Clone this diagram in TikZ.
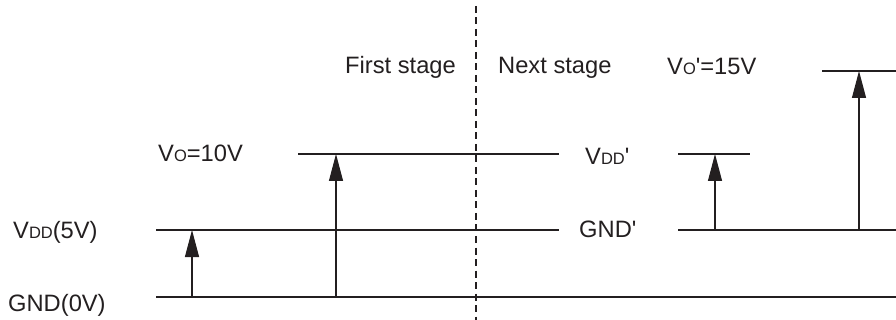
\documentclass[tikz,border=0pt]{standalone}
\usepackage{fontspec}
\setmainfont{Liberation Sans}
\usetikzlibrary{arrows.meta}
\definecolor{ink}{HTML}{231F20}
\newcommand{\smallsub}[1]{{\fontsize{16.5}{16.5}\selectfont #1}}
\newcommand{\prm}{\textquotesingle}
\begin{document}
\begin{tikzpicture}[x=1pt,y=-1pt,
  level/.style={draw=ink,line width=1.2pt},
  rise/.style={draw=ink,line width=1.2pt,-{Triangle[length=27pt,width=14pt]}},
  lbl/.style={anchor=base west,inner sep=0pt,text=ink,font=\fontsize{23.7}{24}\selectfont},
  divider/.style={draw=ink,line width=1.1pt,dash pattern=on 7pt off 4.5pt}]
\useasboundingbox (0,0) rectangle (896,320);
% coordinates for levels
\coordinate (gndL) at (156,297);
\coordinate (gndR) at (896,297);
\coordinate (vddL) at (156,230);
\coordinate (vddR) at (559,230);
\coordinate (voL) at (298,154);
\coordinate (voR) at (559,154);
\coordinate (vddpL) at (678,154);
\coordinate (vddpR) at (750,154);
\coordinate (gndpL) at (678,230);
\coordinate (gndpR) at (896,230);
\coordinate (vopL) at (822,71);
\coordinate (vopR) at (896,71);
\coordinate (divT) at (476,6);
\coordinate (divB) at (476,320);
% arrow ends
\coordinate (a1b) at (192,297);
\coordinate (a1t) at (192,230);
\coordinate (a2b) at (336,297);
\coordinate (a2t) at (336,154);
\coordinate (a3b) at (715,230);
\coordinate (a3t) at (715,154);
\coordinate (a4b) at (859,230);
\coordinate (a4t) at (859,71);
% lines
\draw[divider] (divT) -- (divB);
\draw[level] (gndL) -- (gndR);
\draw[level] (vddL) -- (vddR);
\draw[level] (voL) -- (voR);
\draw[level] (vddpL) -- (vddpR);
\draw[level] (gndpL) -- (gndpR);
\draw[level] (vopL) -- (vopR);
\draw[rise] (a1b) -- (a1t);
\draw[rise] (a2b) -- (a2t);
\draw[rise] (a3b) -- (a3t);
\draw[rise] (a4b) -- (a4t);
% labels
\node[lbl] (tvdd) at (13,239) {V\smallsub{DD}(5V)};
\node[lbl] (tgnd) at (8,311) {GND(0V)};
\node[lbl] (tvo) at (158,162) {V\smallsub{O}=10V};
\node[lbl] (tfirst) at (345,74) {First stage};
\node[lbl] (tnext) at (498,74) {Next stage};
\node[lbl] (tvddp) at (585,165) {V\smallsub{DD}\prm};
\node[lbl] (tgndp) at (579,238) {GND\prm};
\node[lbl] (tvop) at (667,75) {V\smallsub{O}\prm=15V};
\end{tikzpicture}
\end{document}
